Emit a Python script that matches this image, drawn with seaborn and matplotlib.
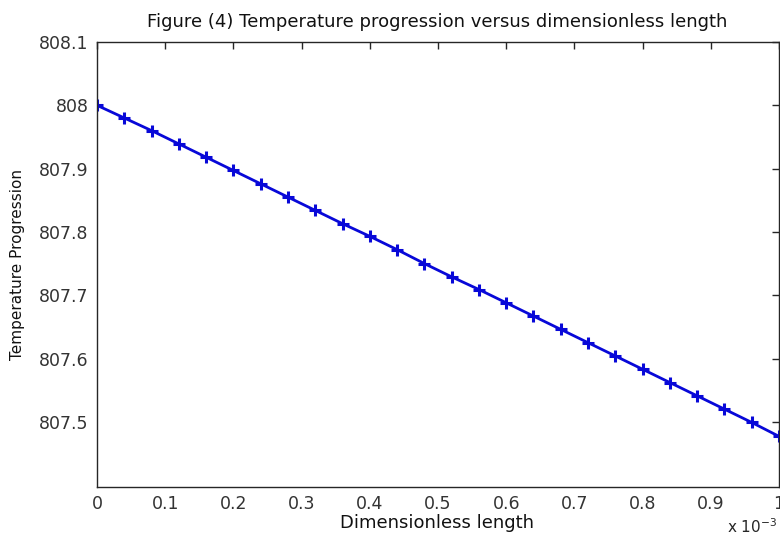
import matplotlib
matplotlib.use("Agg")
import matplotlib.pyplot as plt
import seaborn as sns
import pandas as pd

# x in units of 10^-3
x_vals = [0.00, 0.04, 0.08, 0.12, 0.16, 0.20, 0.24, 0.28, 0.32, 0.36, 0.40, 0.44, 0.48,
          0.52, 0.56, 0.60, 0.64, 0.68, 0.72, 0.76, 0.80, 0.84, 0.88, 0.92, 0.96, 1.00]
temp_vals = [808.000, 807.980, 807.960, 807.939, 807.918, 807.897, 807.876, 807.855, 807.834,
             807.813, 807.793, 807.772, 807.750, 807.729, 807.709, 807.688, 807.667, 807.646,
             807.625, 807.604, 807.583, 807.562, 807.541, 807.520, 807.499, 807.477]
x_ticks = [0, 0.1, 0.2, 0.3, 0.4, 0.5, 0.6, 0.7, 0.8, 0.9, 1.0]
x_tick_labels = ["0", "0.1", "0.2", "0.3", "0.4", "0.5", "0.6", "0.7", "0.8", "0.9", "1"]
y_ticks = [807.5, 807.6, 807.7, 807.8, 807.9, 808.0, 808.1]
y_tick_labels = ["807.5", "807.6", "807.7", "807.8", "807.9", "808", "808.1"]

df = pd.DataFrame({"x": x_vals, "T": temp_vals})

sns.set_theme(style="white")
plt.rcParams["font.family"] = ["DejaVu Sans"]

W, H = 780, 538
fig = plt.figure(figsize=(W / 100, H / 100), dpi=100)
ax = fig.add_axes([97 / W, 1 - 487 / H, 682 / W, 445 / H])

sns.lineplot(data=df, x="x", y="T", ax=ax, color="#0808d8", linewidth=2.0,
             marker="+", markersize=9, markeredgewidth=2.2, markeredgecolor="#0808d8")

ax.set_xlim(0, 1.0)
ax.set_ylim(807.397, 808.1)
ax.set_xticks(x_ticks)
ax.set_xticklabels(x_tick_labels)
ax.set_yticks(y_ticks)
ax.set_yticklabels(y_tick_labels)

ax.tick_params(direction="in", length=5, width=1, colors="#262626", labelsize=12.5,
               top=True, right=True, labelcolor="#333333", pad=6)
for s in ax.spines.values():
    s.set_color("#262626")
    s.set_linewidth(1)
    s.set_visible(True)

ax.set_xlabel("")
ax.set_ylabel("")
fig.text(437 / W, 1 - 523 / H, "Dimensionless length", fontsize=13, color="#111111",
         ha="center", va="center")
fig.text(18 / W, 1 - 264 / H, "Temperature Progression", fontsize=11, color="#111111",
         ha="center", va="center", rotation=90)
fig.text(437 / W, 1 - 22 / H,
         "Figure (4) Temperature progression versus dimensionless length",
         fontsize=13, color="#111111", ha="center", va="center")
fig.text(752 / W, 1 - 527 / H, r"x 10$^{-3}$", fontsize=11, color="#262626",
         ha="center", va="center")

fig.savefig("out.png", dpi=100)
